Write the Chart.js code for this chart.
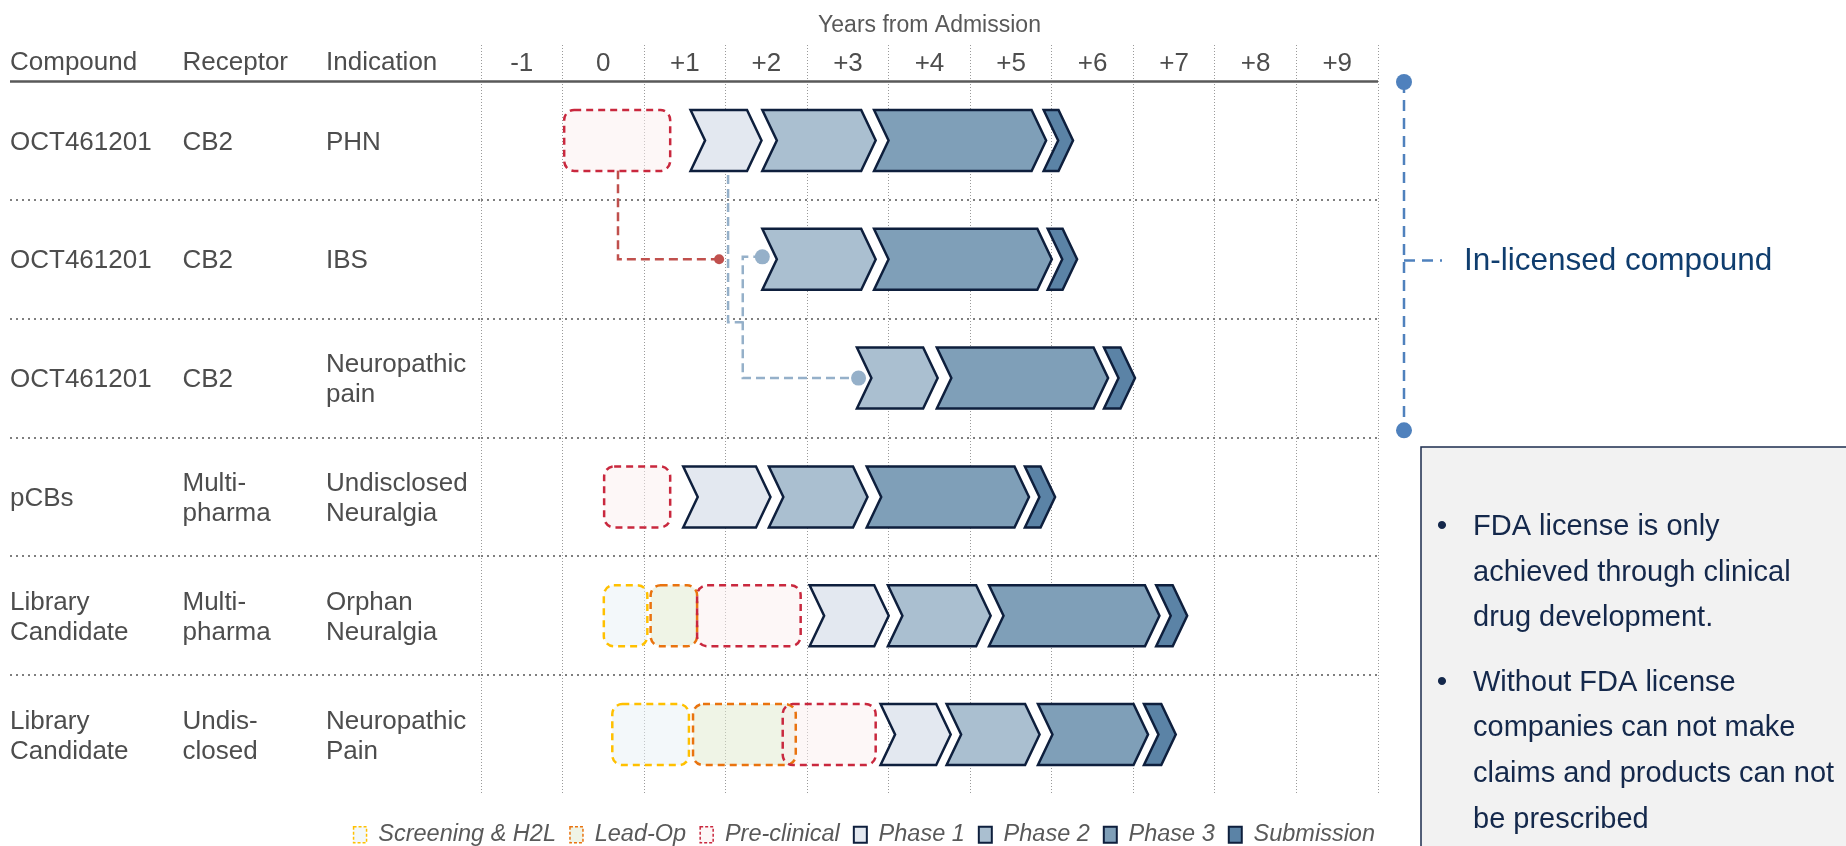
<!DOCTYPE html>
<html>
<head>
<meta charset="utf-8">
<script src="https://cdn.jsdelivr.net/npm/chart.js@4.4.1/dist/chart.umd.min.js"></script>
<style>
  html, body { margin: 0; padding: 0; background: #fff; overflow: hidden; }
  canvas { display: block; }
</style>
</head>
<body>
<canvas id="pipeline" width="1846" height="846"></canvas>
<script>
/* pipeline chart — development stages per compound, in years from admission */

const FONT = "'Liberation Sans', Arial, sans-serif";

// table columns (one entry per row, lines of text)
const COMPOUNDS = [['OCT461201'], ['OCT461201'], ['OCT461201'], ['pCBs'], ['Library', 'Candidate'], ['Library', 'Candidate']];
const RECEPTORS = [['CB2'], ['CB2'], ['CB2'], ['Multi-', 'pharma'], ['Multi-', 'pharma'], ['Undis-', 'closed']];
const INDICATIONS = [['PHN'], ['IBS'], ['Neuropathic', 'pain'], ['Undisclosed', 'Neuralgia'], ['Orphan', 'Neuralgia'], ['Neuropathic', 'Pain']];
const HEADERS = ['Compound', 'Receptor', 'Indication'];

// x axis: years from admission
const YEAR_TICKS = [-1, 0, 1, 2, 3, 4, 5, 6, 7, 8, 9];
const YEAR_LABELS = ['-1', '0', '+1', '+2', '+3', '+4', '+5', '+6', '+7', '+8', '+9'];

// stages: [start, end] in years, one per row
const STAGES = ['Screening & H2L', 'Lead-Op', 'Pre-clinical', 'Phase 1', 'Phase 2', 'Phase 3', 'Submission'];
const SCREENING   = [null, null, null, null, [0.00, 0.54], [0.11, 1.05]];
const LEAD_OP     = [null, null, null, null, [0.58, 1.15], [1.10, 2.36]];
const PRECLINICAL = [[-0.48, 0.82], null, null, [0.01, 0.82], [1.15, 2.42], [2.20, 3.34]];
const PHASE_1     = [[1.07, 1.94], null, null, [0.98, 2.05], [2.53, 3.50], [3.40, 4.26]];
const PHASE_2     = [[1.95, 3.34], [1.95, 3.34], [3.11, 4.10], [2.03, 3.24], [3.49, 4.75], [4.21, 5.35]];
const PHASE_3     = [[3.32, 5.43], [3.32, 5.50], [4.09, 6.19], [3.23, 5.22], [4.73, 6.82], [5.33, 6.68]];
const SUBMISSION  = [[5.40, 5.76], [5.45, 5.81], [6.14, 6.52], [5.17, 5.54], [6.78, 7.16], [6.63, 7.02]];
const STAGE_DATA = [SCREENING, LEAD_OP, PRECLINICAL, PHASE_1, PHASE_2, PHASE_3, SUBMISSION];

// connectors (x in years, y in row units)
const RED_LINK_X = [0.18, 0.18, 1.42];
const RED_LINK_Y = [0.25, 1.0, 1.0];
const BLUE_LINK_A_X = [1.53, 1.53, 1.71];
const BLUE_LINK_A_Y = [0.29, 1.53, 1.53];
const BLUE_LINK_B_X = [1.95, 1.71, 1.71, 3.13];
const BLUE_LINK_B_Y = [0.98, 0.98, 2.0, 2.0];

const NOTES = [
  ['FDA license is only', 'achieved through clinical', 'drug development.'],
  ['Without FDA license', 'companies can not make', 'claims and products can not', 'be prescribed'],
];

/* ── styles ─────────────────────────────────────────────── */

const STAGE_KIND = ['box', 'box', 'box', 'chevron', 'chevron', 'chevron', 'chevron'];
const STAGE_FILL = ['rgba(232,241,246,0.5)', 'rgba(223,233,205,0.5)', 'rgba(251,239,239,0.5)',
  '#e3e8f0', '#aabfd0', '#7f9fb8', '#5b83a6'];
const STAGE_SWATCH = ['#f3f8fa', '#eff4e6', '#fdf7f7', '#e3e8f0', '#aabfd0', '#7f9fb8', '#5b83a6'];
const STAGE_STROKE = ['#ffc000', '#e9730f', '#c9283e', '#0e1f3d', '#0e1f3d', '#0e1f3d', '#0e1f3d'];
const TEXT = '#4d4d4d';

Chart.defaults.font.family = FONT;
Chart.defaults.color = TEXT;

function chevronPath(ctx, left, right, yc, h, d) {
  const top = yc - h / 2, bottom = yc + h / 2;
  ctx.beginPath();
  ctx.moveTo(left, top);
  ctx.lineTo(right - d, top);
  ctx.lineTo(right, yc);
  ctx.lineTo(right - d, bottom);
  ctx.lineTo(left, bottom);
  ctx.lineTo(left + d, yc);
  ctx.closePath();
}

function roundedPath(ctx, left, right, yc, h, r) {
  const top = yc - h / 2, bottom = yc + h / 2;
  ctx.beginPath();
  ctx.moveTo(left + r, top);
  ctx.arcTo(right, top, right, bottom, r);
  ctx.arcTo(right, bottom, left, bottom, r);
  ctx.arcTo(left, bottom, left, top, r);
  ctx.arcTo(left, top, right, top, r);
  ctx.closePath();
}

function dashedPath(chart, xs, ys, color, dotFirst, dotLast, r) {
  const { ctx, scales: { x, y } } = chart;
  const px = xs.map(v => x.getPixelForValue(v));
  const py = ys.map(v => y.getPixelForValue(v));
  ctx.save();
  ctx.strokeStyle = color;
  ctx.lineWidth = 2.5;
  ctx.setLineDash([9, 5]);
  ctx.beginPath();
  px.forEach((p, i) => (i ? ctx.lineTo(p, py[i]) : ctx.moveTo(p, py[i])));
  ctx.stroke();
  ctx.fillStyle = color;
  const dots = [];
  if (dotFirst) dots.push(0);
  if (dotLast) dots.push(px.length - 1);
  dots.forEach(i => {
    ctx.beginPath();
    ctx.arc(px[i], py[i], r, 0, Math.PI * 2);
    ctx.fill();
  });
  ctx.restore();
}

const pipelinePlugin = {
  id: 'pipeline',
  afterLayout(chart) {
    // nudge legend to sit where the reference puts it
    chart.legend.top += 15; chart.legend.bottom += 15;
    chart.legend.left += 11; chart.legend.right += 11;
  },
  beforeDatasetsDraw(chart) {
    dashedPath(chart, RED_LINK_X, RED_LINK_Y, '#c0504d', false, true, 5);
    dashedPath(chart, BLUE_LINK_A_X, BLUE_LINK_A_Y, '#95b0c9', false, false, 0);
    dashedPath(chart, BLUE_LINK_B_X, BLUE_LINK_B_Y, '#95b0c9', true, true, 7.5);
  },
  beforeDatasetDraw() {
    return false;
  },
  afterDatasetsDraw(chart) {
    const ctx = chart.ctx;
    const shapes = [];
    chart.data.datasets.forEach((ds, di) => {
      chart.getDatasetMeta(di).data.forEach((el, i) => {
        if (!ds.data[i]) return;
        const p = el.getProps(['x', 'y', 'base', 'height'], true);
        shapes.push({ di, left: Math.min(p.x, p.base), right: Math.max(p.x, p.base), y: p.y, h: p.height });
      });
    });
    const trace = s => (STAGE_KIND[s.di] === 'box'
      ? roundedPath(ctx, s.left, s.right, s.y, s.h, 10)
      : chevronPath(ctx, s.left, s.right, s.y, s.h, 14.5));
    ctx.save();
    // fills first so overlapping dashed outlines stay visible
    shapes.forEach(s => {
      trace(s);
      ctx.fillStyle = STAGE_FILL[s.di];
      ctx.fill();
    });
    shapes.forEach(s => {
      trace(s);
      ctx.strokeStyle = STAGE_STROKE[s.di];
      ctx.lineWidth = 2.5;
      ctx.lineJoin = 'miter';
      ctx.setLineDash(STAGE_KIND[s.di] === 'box' ? [7, 5] : []);
      ctx.stroke();
    });
    ctx.restore();
  },
  afterDraw(chart) {
    const { ctx, chartArea, scales: { y } } = chart;
    const colX = [10, 182.5, 326];
    ctx.save();

    // table header + rows
    ctx.font = `26px ${FONT}`;
    ctx.fillStyle = TEXT;
    ctx.textBaseline = 'middle';
    ctx.textAlign = 'left';
    HEADERS.forEach((h, c) => ctx.fillText(h, colX[c], 63));
    [COMPOUNDS, RECEPTORS, INDICATIONS].forEach((col, c) => {
      col.forEach((lines, r) => {
        const yc = y.getPixelForValue(r) + 2;
        lines.forEach((t, k) => ctx.fillText(t, colX[c], yc + (k - (lines.length - 1) / 2) * 30));
      });
    });

    // header underline
    ctx.strokeStyle = '#595959';
    ctx.lineWidth = 2.5;
    ctx.beginPath();
    ctx.moveTo(10, chartArea.top + 0.5);
    ctx.lineTo(chartArea.right, chartArea.top + 0.5);
    ctx.stroke();

    // in-licensed bracket
    const bx = chartArea.right + 26;
    const bTop = y.getPixelForValue(-0.5) + 1;
    const bBot = y.getPixelForValue(2.44);
    const bMid = y.getPixelForValue(1.01);
    ctx.strokeStyle = '#4f81bd';
    ctx.fillStyle = '#4f81bd';
    ctx.lineWidth = 2.5;
    ctx.setLineDash([11, 7]);
    ctx.beginPath();
    ctx.moveTo(bx, bTop);
    ctx.lineTo(bx, bBot);
    ctx.moveTo(bx, bMid);
    ctx.lineTo(bx + 38, bMid);
    ctx.stroke();
    ctx.setLineDash([]);
    [bTop, bBot].forEach(py => {
      ctx.beginPath();
      ctx.arc(bx, py, 8, 0, Math.PI * 2);
      ctx.fill();
    });
    ctx.font = `31.5px ${FONT}`;
    ctx.fillStyle = '#0f3d6e';
    ctx.fillText('In-licensed compound', bx + 60, bMid + 1);

    // notes panel
    const px = chartArea.right + 43;
    const py = 447;
    ctx.fillStyle = '#f2f2f2';
    ctx.fillRect(px, py, 500, 500);
    ctx.strokeStyle = '#1c2d4d';
    ctx.lineWidth = 1.5;
    ctx.strokeRect(px, py, 500, 500);
    ctx.fillStyle = '#14284b';
    let ty = 527;
    NOTES.forEach((para, pi) => {
      if (pi) ty += 19;
      para.forEach((line, li) => {
        if (li === 0) {
          ctx.font = `30px ${FONT}`;
          ctx.textAlign = 'center';
          ctx.fillText('•', px + 21, ty);
        }
        ctx.font = `29px ${FONT}`;
        ctx.textAlign = 'left';
        ctx.fillText(line, px + 52, ty);
        ty += 45.6;
      });
    });
    ctx.restore();
  },
};

const ROW_LABELS = COMPOUNDS.map((c, i) => `${c.join(' ')} / ${INDICATIONS[i].join(' ')}`);

const separatorColor = ctx => (ctx.type !== 'tick' || ctx.index === 0 ? 'rgba(0,0,0,0)' : '#7f7f7f');

new Chart(document.getElementById('pipeline'), {
  type: 'bar',
  data: {
    labels: ROW_LABELS,
    datasets: STAGES.map((name, i) => ({
      label: name,
      data: STAGE_DATA[i],
      grouped: false,
      barThickness: 61,
      backgroundColor: STAGE_FILL[i],
      borderColor: STAGE_STROKE[i],
    })),
  },
  options: {
    indexAxis: 'y',
    responsive: false,
    animation: false,
    devicePixelRatio: 1,
    events: [],
    layout: { padding: { left: 0, right: 468, top: 0, bottom: 4.5 } },
    plugins: {
      tooltip: { enabled: false },
      legend: {
        position: 'bottom',
        align: 'end',
        labels: {
          boxWidth: 13,
          boxHeight: 16,
          padding: 14,
          color: '#595959',
          font: { size: 23.5, style: 'italic' },
          generateLabels: () => STAGES.map((name, i) => ({
            text: name,
            fontColor: '#595959',
            fillStyle: STAGE_SWATCH[i],
            strokeStyle: STAGE_STROKE[i],
            lineWidth: STAGE_KIND[i] === 'box' ? 1.5 : 2,
            lineDash: STAGE_KIND[i] === 'box' ? [3, 2] : [],
            hidden: false,
            datasetIndex: i,
          })),
        },
      },
    },
    scales: {
      x: {
        type: 'linear',
        position: 'top',
        min: -1.5,
        max: 9.5,
        afterBuildTicks: scale => { scale.ticks = YEAR_TICKS.map(v => ({ value: v })); },
        afterFit: scale => { scale.height = 81; },
        grid: {
          offset: true,
          color: '#9a9a9a',
          lineWidth: 1,
          tickLength: 36,
          tickColor: '#9a9a9a',
          tickBorderDash: [1, 2],
          borderDash: [1, 2],
        },
        border: { display: false, dash: [1, 2] },
        ticks: {
          autoSkip: false,
          maxRotation: 0,
          padding: -34,
          color: TEXT,
          font: { size: 26 },
          callback: (value, index) => YEAR_LABELS[index],
        },
        title: {
          display: true,
          text: 'Years from Admission',
          color: '#595959',
          font: { size: 23 },
          padding: { top: 12, bottom: 0 },
        },
      },
      y: {
        type: 'category',
        afterFit: scale => { scale.width = 481; },
        ticks: { display: false },
        grid: {
          offset: true,
          lineWidth: 2,
          tickLength: 471,
          color: separatorColor,
          tickColor: separatorColor,
          tickBorderDash: [2, 4],
          borderDash: [2, 4],
        },
        border: { display: false, dash: [2, 4] },
      },
    },
  },
  plugins: [pipelinePlugin],
});
</script>
</body>
</html>
